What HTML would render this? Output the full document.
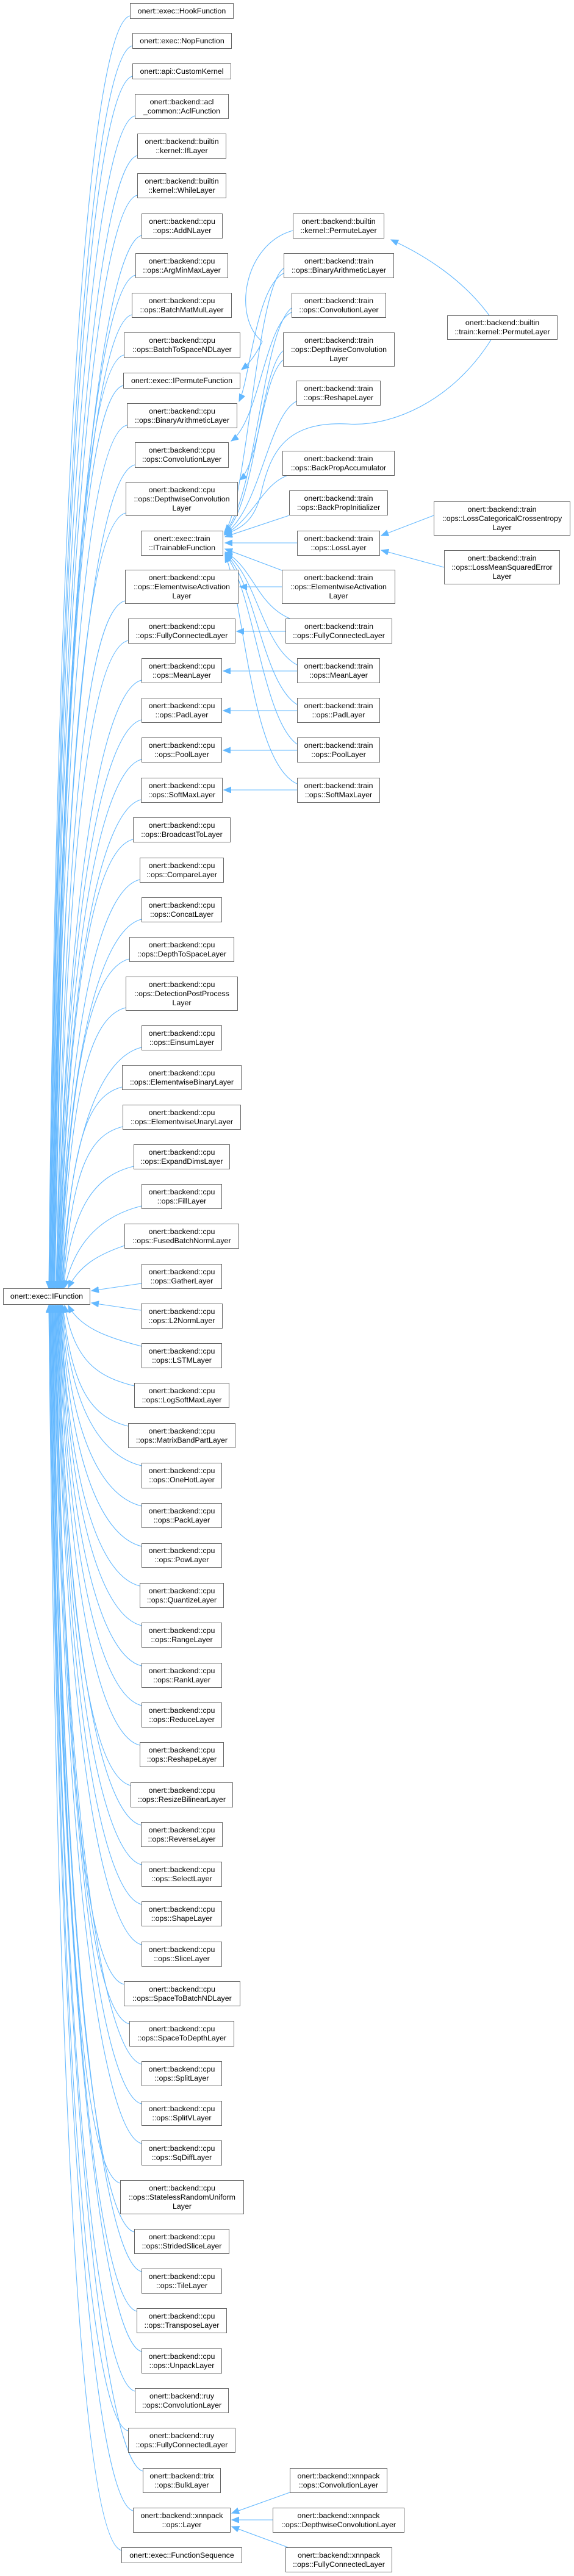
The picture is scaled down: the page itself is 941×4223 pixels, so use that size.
<!DOCTYPE html>
<html><head><meta charset="utf-8">
<style>
html,body{margin:0;padding:0;background:#fff;}
body{width:941px;height:4223px;position:relative;overflow:hidden;}
.n{position:absolute;box-sizing:border-box;border:1px solid #666;background:#fff;display:flex;align-items:center;justify-content:center;text-align:center;white-space:nowrap;font-family:"Liberation Sans",Arial,sans-serif;font-size:12.4px;line-height:15px;color:#000;}
svg{position:absolute;left:0;top:0;}
svg path{fill:none;stroke:#63b8ff;stroke-width:1.1;}
</style></head><body>
<svg width="941" height="4223" viewBox="0 0 941 4223">
<defs><marker id="a" markerUnits="userSpaceOnUse" markerWidth="14" markerHeight="12" refX="12" refY="5" orient="auto"><path d="M0,0 L12,5 L0,10 Z" style="fill:#63b8ff;stroke:#63b8ff;stroke-width:1"/></marker></defs>
<g marker-end="url(#a)">
<path d="M213,26 C153,41 95,652 80,2112"/>
<path d="M217,75 C157,90 96,686 81,2112"/>
<path d="M217,125 C157,140 97,722 82,2112"/>
<path d="M221,190 C161,205 97,767 82,2112"/>
<path d="M225,255 C165,270 98,812 83,2112"/>
<path d="M225,320 C165,335 99,858 84,2112"/>
<path d="M232,386 C172,401 100,904 85,2112"/>
<path d="M222,451 C162,466 100,950 85,2112"/>
<path d="M216,516 C156,531 101,995 86,2112"/>
<path d="M203,582 C143,597 102,1041 87,2112"/>
<path d="M202,632 C142,647 103,1076 88,2112"/>
<path d="M208,697 C148,712 103,1122 88,2112"/>
<path d="M221,762 C161,777 104,1167 89,2112"/>
<path d="M206,841 C146,856 105,1223 90,2112"/>
<path d="M205,985 C145,1000 107,1324 92,2112"/>
<path d="M210,1050 C150,1065 108,1369 93,2112"/>
<path d="M232,1115 C172,1130 109,1415 94,2112"/>
<path d="M232,1180 C172,1195 109,1460 94,2112"/>
<path d="M232,1245 C172,1260 110,1506 95,2112"/>
<path d="M231,1311 C171,1326 111,1552 96,2112"/>
<path d="M218,1376 C158,1391 112,1597 97,2112"/>
<path d="M229,1442 C169,1457 113,1643 98,2112"/>
<path d="M232,1507 C172,1522 113,1689 98,2112"/>
<path d="M212,1572 C152,1587 114,1734 99,2112"/>
<path d="M206,1652 C146,1667 115,1790 100,2112"/>
<path d="M232,1717 C172,1732 116,1836 101,2112"/>
<path d="M200,1782 C140,1797 117,1881 102,2112"/>
<path d="M201,1847 C141,1862 118,1927 103,2112"/>
<path d="M219,1912 C159,1927 118,1972 104,2112"/>
<path d="M232,1977 C172,1992 124,2030 106,2111"/>
<path d="M204,2042 C160,2057 130,2075 112,2111"/>
<path d="M232,2104 L150,2116"/>
<path d="M231,2148 L150,2136"/>
<path d="M232,2207 C172,2192 130,2175 112,2140"/>
<path d="M220,2272 C160,2257 122,2232 106,2140"/>
<path d="M210,2338 C150,2323 118,2278 103,2140"/>
<path d="M232,2403 C172,2388 117,2324 102,2140"/>
<path d="M232,2469 C172,2454 116,2370 101,2140"/>
<path d="M232,2535 C172,2520 115,2416 100,2140"/>
<path d="M229,2600 C169,2585 114,2462 99,2140"/>
<path d="M232,2665 C172,2650 114,2507 99,2140"/>
<path d="M232,2731 C172,2716 113,2553 98,2140"/>
<path d="M232,2796 C172,2781 112,2599 97,2140"/>
<path d="M229,2861 C169,2846 111,2644 96,2140"/>
<path d="M214,2927 C154,2912 110,2691 95,2140"/>
<path d="M231,2992 C171,2977 110,2736 95,2140"/>
<path d="M232,3057 C172,3042 109,2782 94,2140"/>
<path d="M232,3122 C172,3107 108,2827 93,2140"/>
<path d="M232,3188 C172,3173 107,2873 92,2140"/>
<path d="M203,3253 C143,3238 106,2919 91,2140"/>
<path d="M212,3318 C152,3303 106,2964 91,2140"/>
<path d="M232,3384 C172,3369 105,3010 90,2140"/>
<path d="M232,3449 C172,3434 104,3056 89,2140"/>
<path d="M232,3514 C172,3499 103,3102 88,2140"/>
<path d="M197,3579 C137,3564 102,3147 87,2140"/>
<path d="M220,3659 C160,3644 101,3203 86,2140"/>
<path d="M232,3724 C172,3709 101,3249 86,2140"/>
<path d="M224,3789 C164,3774 100,3294 85,2140"/>
<path d="M232,3855 C172,3840 99,3340 84,2140"/>
<path d="M221,3920 C161,3905 98,3386 83,2140"/>
<path d="M210,3985 C150,3970 97,3431 82,2140"/>
<path d="M234,4051 C174,4036 97,3478 82,2140"/>
<path d="M218,4116 C158,4101 96,3523 81,2140"/>
<path d="M199,4181 C139,4166 95,3568 80,2140"/>

<path d="M480,378 C400,400 380,520 430,560 C420,580 410,595 396,606"/>
<path d="M465,448 C420,470 410,620 392,658"/>
<path d="M478,512 C435,530 425,690 379,723"/>
<path d="M464,590 C430,620 425,760 393,787"/>
<path d="M802,517 C760,460 700,420 641,393"/>
<path d="M805,557 C740,660 640,700 570,695 C470,690 445,740 430,800 C420,850 400,865 368,876"/>
<path d="M465,440 C420,470 405,830 368,872"/>
<path d="M478,505 C430,540 420,820 368,873"/>
<path d="M464,575 C425,610 420,830 368,874"/>
<path d="M486,658 C440,680 425,840 368,875"/>
<path d="M470,780 C430,795 415,850 368,877"/>
<path d="M474,845 L369,880"/>
<path d="M487,890 L369,890"/>
<path d="M462,935 L369,900"/>
<path d="M475,1014 C420,990 415,930 369,905"/>
<path d="M487,1090 C430,1060 420,940 369,907"/>
<path d="M487,1155 C430,1120 418,950 369,908"/>
<path d="M487,1220 C430,1180 415,960 369,909"/>
<path d="M487,1285 C410,1250 400,980 369,910"/>
<path d="M462,962 L393,962"/>
<path d="M468,1035 L388,1035"/>
<path d="M487,1100 L366,1100"/>
<path d="M487,1165 L366,1165"/>
<path d="M487,1230 L366,1230"/>
<path d="M487,1295 L367,1295"/>
<path d="M711,845 L625,878"/>
<path d="M728,930 L625,902"/>
<path d="M475,4086 L380,4120"/>
<path d="M447,4131 L380,4131"/>
<path d="M472,4176 L380,4142"/>
</g>
</svg>

<div class="n" style="left:213px;top:5px;width:170px;height:26px">onert::exec::HookFunction</div>
<div class="n" style="left:217px;top:54px;width:163px;height:26px">onert::exec::NopFunction</div>
<div class="n" style="left:217px;top:104px;width:162px;height:26px">onert::api::CustomKernel</div>
<div class="n" style="left:221px;top:154px;width:154px;height:41px">onert::backend::acl<br>_common::AclFunction</div>
<div class="n" style="left:225px;top:219px;width:146px;height:41px">onert::backend::builtin<br>::kernel::IfLayer</div>
<div class="n" style="left:225px;top:284px;width:146px;height:41px">onert::backend::builtin<br>::kernel::WhileLayer</div>
<div class="n" style="left:232px;top:350px;width:133px;height:41px">onert::backend::cpu<br>::ops::AddNLayer</div>
<div class="n" style="left:222px;top:415px;width:152px;height:41px">onert::backend::cpu<br>::ops::ArgMinMaxLayer</div>
<div class="n" style="left:216px;top:480px;width:164px;height:41px">onert::backend::cpu<br>::ops::BatchMatMulLayer</div>
<div class="n" style="left:203px;top:545px;width:191px;height:42px">onert::backend::cpu<br>::ops::BatchToSpaceNDLayer</div>
<div class="n" style="left:202px;top:611px;width:192px;height:26px">onert::exec::IPermuteFunction</div>
<div class="n" style="left:208px;top:661px;width:181px;height:41px">onert::backend::cpu<br>::ops::BinaryArithmeticLayer</div>
<div class="n" style="left:221px;top:725px;width:154px;height:42px">onert::backend::cpu<br>::ops::ConvolutionLayer</div>
<div class="n" style="left:206px;top:790px;width:184px;height:56px">onert::backend::cpu<br>::ops::DepthwiseConvolution<br>Layer</div>
<div class="n" style="left:231px;top:870px;width:135px;height:41px">onert::exec::train<br>::ITrainableFunction</div>
<div class="n" style="left:205px;top:934px;width:186px;height:56px">onert::backend::cpu<br>::ops::ElementwiseActivation<br>Layer</div>
<div class="n" style="left:210px;top:1014px;width:176px;height:41px">onert::backend::cpu<br>::ops::FullyConnectedLayer</div>
<div class="n" style="left:232px;top:1079px;width:132px;height:41px">onert::backend::cpu<br>::ops::MeanLayer</div>
<div class="n" style="left:232px;top:1144px;width:132px;height:41px">onert::backend::cpu<br>::ops::PadLayer</div>
<div class="n" style="left:232px;top:1209px;width:132px;height:41px">onert::backend::cpu<br>::ops::PoolLayer</div>
<div class="n" style="left:231px;top:1275px;width:134px;height:41px">onert::backend::cpu<br>::ops::SoftMaxLayer</div>
<div class="n" style="left:218px;top:1340px;width:160px;height:41px">onert::backend::cpu<br>::ops::BroadcastToLayer</div>
<div class="n" style="left:229px;top:1406px;width:138px;height:41px">onert::backend::cpu<br>::ops::CompareLayer</div>
<div class="n" style="left:232px;top:1471px;width:132px;height:41px">onert::backend::cpu<br>::ops::ConcatLayer</div>
<div class="n" style="left:212px;top:1536px;width:172px;height:41px">onert::backend::cpu<br>::ops::DepthToSpaceLayer</div>
<div class="n" style="left:206px;top:1601px;width:184px;height:56px">onert::backend::cpu<br>::ops::DetectionPostProcess<br>Layer</div>
<div class="n" style="left:232px;top:1681px;width:132px;height:41px">onert::backend::cpu<br>::ops::EinsumLayer</div>
<div class="n" style="left:200px;top:1746px;width:196px;height:41px">onert::backend::cpu<br>::ops::ElementwiseBinaryLayer</div>
<div class="n" style="left:201px;top:1811px;width:194px;height:41px">onert::backend::cpu<br>::ops::ElementwiseUnaryLayer</div>
<div class="n" style="left:219px;top:1876px;width:158px;height:41px">onert::backend::cpu<br>::ops::ExpandDimsLayer</div>
<div class="n" style="left:232px;top:1941px;width:132px;height:41px">onert::backend::cpu<br>::ops::FillLayer</div>
<div class="n" style="left:204px;top:2006px;width:188px;height:41px">onert::backend::cpu<br>::ops::FusedBatchNormLayer</div>
<div class="n" style="left:232px;top:2072px;width:132px;height:41px">onert::backend::cpu<br>::ops::GatherLayer</div>
<div class="n" style="left:5px;top:2112px;width:143px;height:27px">onert::exec::IFunction</div>
<div class="n" style="left:231px;top:2137px;width:134px;height:41px">onert::backend::cpu<br>::ops::L2NormLayer</div>
<div class="n" style="left:232px;top:2202px;width:132px;height:41px">onert::backend::cpu<br>::ops::LSTMLayer</div>
<div class="n" style="left:220px;top:2267px;width:156px;height:41px">onert::backend::cpu<br>::ops::LogSoftMaxLayer</div>
<div class="n" style="left:210px;top:2333px;width:176px;height:41px">onert::backend::cpu<br>::ops::MatrixBandPartLayer</div>
<div class="n" style="left:232px;top:2398px;width:132px;height:42px">onert::backend::cpu<br>::ops::OneHotLayer</div>
<div class="n" style="left:232px;top:2464px;width:132px;height:41px">onert::backend::cpu<br>::ops::PackLayer</div>
<div class="n" style="left:232px;top:2530px;width:132px;height:40px">onert::backend::cpu<br>::ops::PowLayer</div>
<div class="n" style="left:229px;top:2595px;width:138px;height:41px">onert::backend::cpu<br>::ops::QuantizeLayer</div>
<div class="n" style="left:232px;top:2660px;width:132px;height:41px">onert::backend::cpu<br>::ops::RangeLayer</div>
<div class="n" style="left:232px;top:2726px;width:132px;height:41px">onert::backend::cpu<br>::ops::RankLayer</div>
<div class="n" style="left:232px;top:2791px;width:132px;height:41px">onert::backend::cpu<br>::ops::ReduceLayer</div>
<div class="n" style="left:229px;top:2856px;width:138px;height:41px">onert::backend::cpu<br>::ops::ReshapeLayer</div>
<div class="n" style="left:214px;top:2922px;width:168px;height:41px">onert::backend::cpu<br>::ops::ResizeBilinearLayer</div>
<div class="n" style="left:231px;top:2987px;width:134px;height:41px">onert::backend::cpu<br>::ops::ReverseLayer</div>
<div class="n" style="left:232px;top:3052px;width:132px;height:41px">onert::backend::cpu<br>::ops::SelectLayer</div>
<div class="n" style="left:232px;top:3117px;width:132px;height:41px">onert::backend::cpu<br>::ops::ShapeLayer</div>
<div class="n" style="left:232px;top:3183px;width:132px;height:41px">onert::backend::cpu<br>::ops::SliceLayer</div>
<div class="n" style="left:203px;top:3248px;width:191px;height:41px">onert::backend::cpu<br>::ops::SpaceToBatchNDLayer</div>
<div class="n" style="left:212px;top:3313px;width:172px;height:42px">onert::backend::cpu<br>::ops::SpaceToDepthLayer</div>
<div class="n" style="left:232px;top:3379px;width:132px;height:41px">onert::backend::cpu<br>::ops::SplitLayer</div>
<div class="n" style="left:232px;top:3444px;width:132px;height:41px">onert::backend::cpu<br>::ops::SplitVLayer</div>
<div class="n" style="left:232px;top:3509px;width:132px;height:41px">onert::backend::cpu<br>::ops::SqDiffLayer</div>
<div class="n" style="left:197px;top:3574px;width:203px;height:56px">onert::backend::cpu<br>::ops::StatelessRandomUniform<br>Layer</div>
<div class="n" style="left:220px;top:3654px;width:156px;height:41px">onert::backend::cpu<br>::ops::StridedSliceLayer</div>
<div class="n" style="left:232px;top:3719px;width:132px;height:41px">onert::backend::cpu<br>::ops::TileLayer</div>
<div class="n" style="left:224px;top:3784px;width:148px;height:41px">onert::backend::cpu<br>::ops::TransposeLayer</div>
<div class="n" style="left:232px;top:3850px;width:132px;height:41px">onert::backend::cpu<br>::ops::UnpackLayer</div>
<div class="n" style="left:221px;top:3915px;width:154px;height:41px">onert::backend::ruy<br>::ops::ConvolutionLayer</div>
<div class="n" style="left:210px;top:3980px;width:176px;height:41px">onert::backend::ruy<br>::ops::FullyConnectedLayer</div>
<div class="n" style="left:234px;top:4046px;width:128px;height:41px">onert::backend::trix<br>::ops::BulkLayer</div>
<div class="n" style="left:218px;top:4111px;width:160px;height:41px">onert::backend::xnnpack<br>::ops::Layer</div>
<div class="n" style="left:199px;top:4176px;width:198px;height:26px">onert::exec::FunctionSequence</div>

<div class="n" style="left:480px;top:350px;width:150px;height:41px">onert::backend::builtin<br>::kernel::PermuteLayer</div>
<div class="n" style="left:465px;top:415px;width:181px;height:41px">onert::backend::train<br>::ops::BinaryArithmeticLayer</div>
<div class="n" style="left:478px;top:480px;width:155px;height:41px">onert::backend::train<br>::ops::ConvolutionLayer</div>
<div class="n" style="left:464px;top:545px;width:183px;height:56px">onert::backend::train<br>::ops::DepthwiseConvolution<br>Layer</div>
<div class="n" style="left:486px;top:624px;width:138px;height:41px">onert::backend::train<br>::ops::ReshapeLayer</div>
<div class="n" style="left:733px;top:517px;width:181px;height:40px">onert::backend::builtin<br>::train::kernel::PermuteLayer</div>
<div class="n" style="left:463px;top:739px;width:184px;height:41px">onert::backend::train<br>::ops::BackPropAccumulator</div>
<div class="n" style="left:474px;top:804px;width:162px;height:41px">onert::backend::train<br>::ops::BackPropInitializer</div>
<div class="n" style="left:487px;top:870px;width:136px;height:41px">onert::backend::train<br>::ops::LossLayer</div>
<div class="n" style="left:711px;top:822px;width:224px;height:56px">onert::backend::train<br>::ops::LossCategoricalCrossentropy<br>Layer</div>
<div class="n" style="left:728px;top:902px;width:190px;height:56px">onert::backend::train<br>::ops::LossMeanSquaredError<br>Layer</div>
<div class="n" style="left:462px;top:934px;width:186px;height:56px">onert::backend::train<br>::ops::ElementwiseActivation<br>Layer</div>
<div class="n" style="left:468px;top:1014px;width:175px;height:41px">onert::backend::train<br>::ops::FullyConnectedLayer</div>
<div class="n" style="left:487px;top:1079px;width:136px;height:41px">onert::backend::train<br>::ops::MeanLayer</div>
<div class="n" style="left:487px;top:1144px;width:136px;height:41px">onert::backend::train<br>::ops::PadLayer</div>
<div class="n" style="left:487px;top:1209px;width:136px;height:41px">onert::backend::train<br>::ops::PoolLayer</div>
<div class="n" style="left:487px;top:1275px;width:136px;height:41px">onert::backend::train<br>::ops::SoftMaxLayer</div>
<div class="n" style="left:475px;top:4046px;width:160px;height:41px">onert::backend::xnnpack<br>::ops::ConvolutionLayer</div>
<div class="n" style="left:447px;top:4111px;width:216px;height:41px">onert::backend::xnnpack<br>::ops::DepthwiseConvolutionLayer</div>
<div class="n" style="left:468px;top:4176px;width:175px;height:41px">onert::backend::xnnpack<br>::ops::FullyConnectedLayer</div>
</body></html>
